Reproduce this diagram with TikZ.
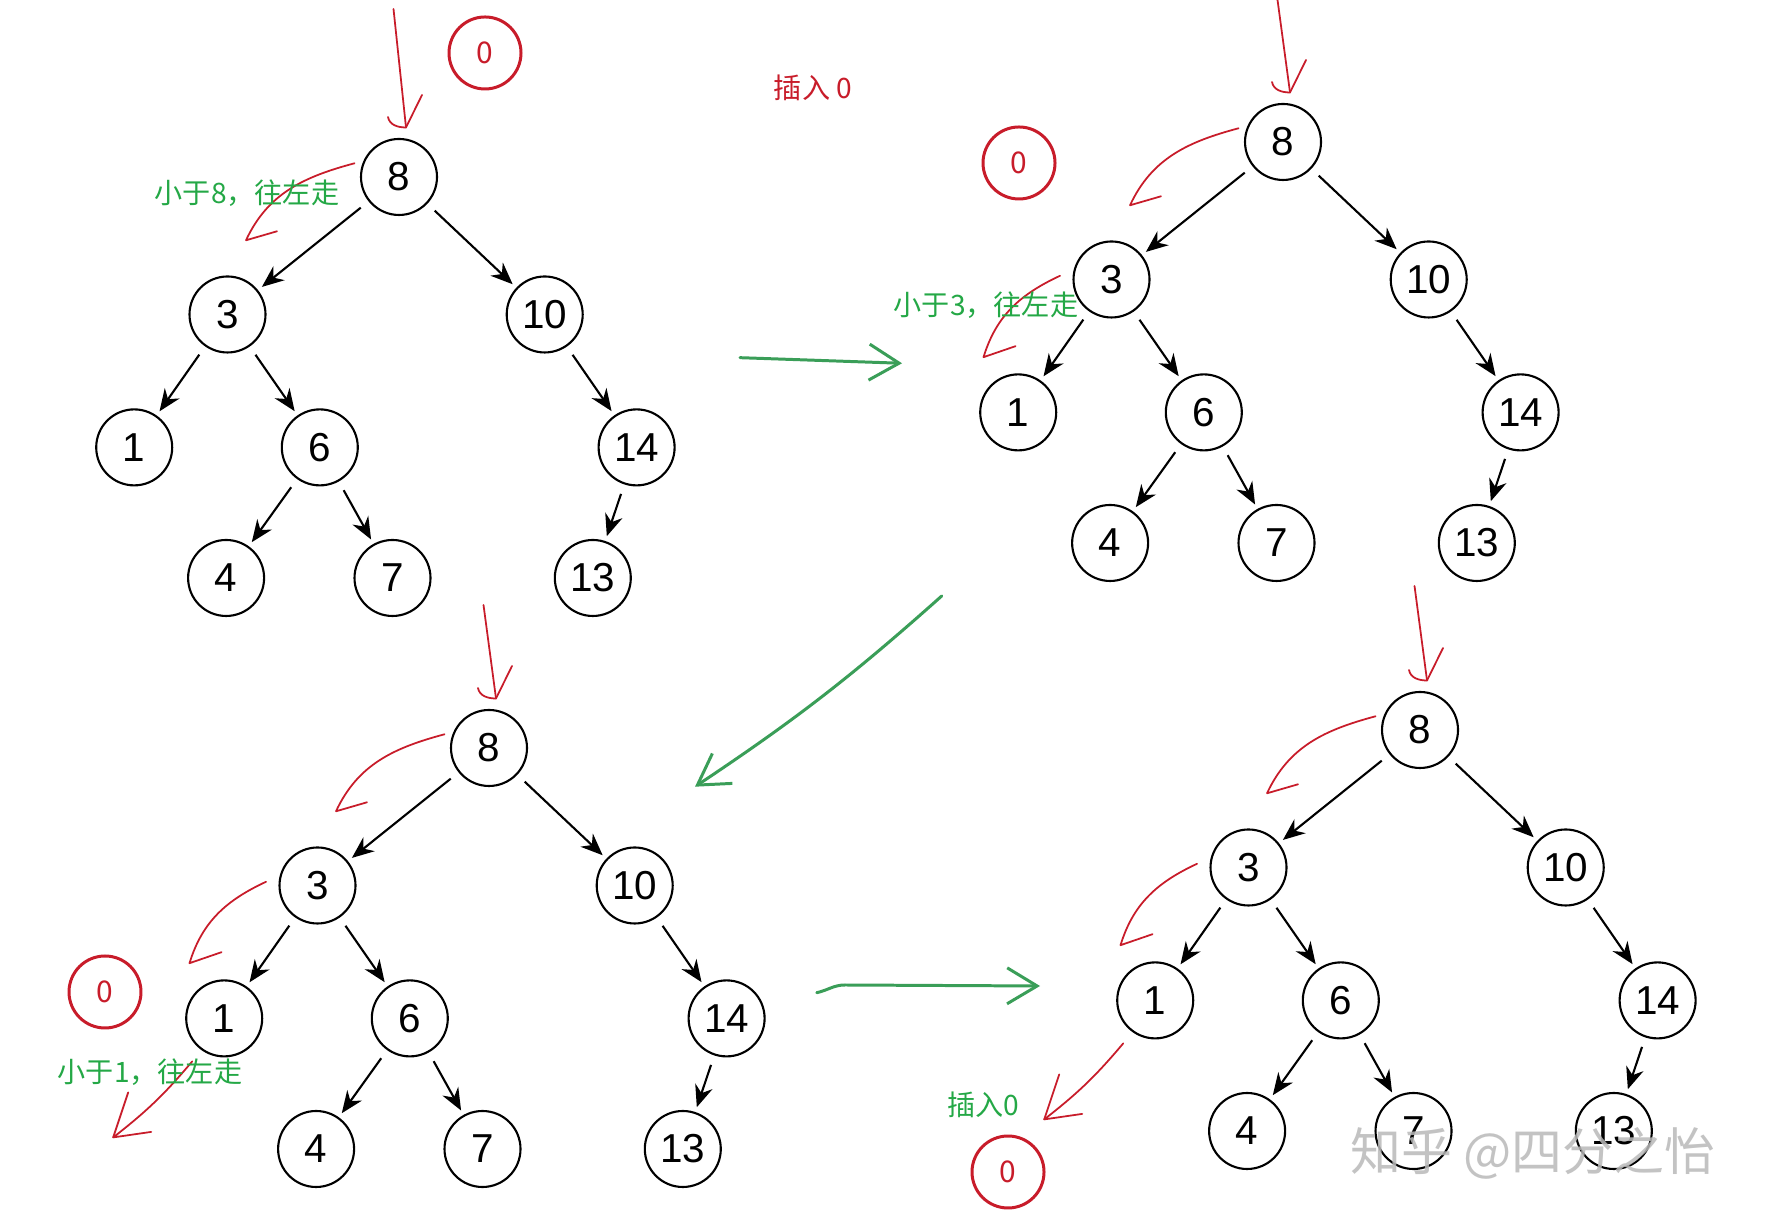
\documentclass[tikz,border=0pt]{standalone}
\usepackage{fontspec}
\setmainfont{Liberation Sans}
\newfontfamily\cjk{Noto Sans CJK SC}
\usetikzlibrary{arrows.meta, calc}
\definecolor{inkred}{RGB}{200,28,42}
\definecolor{inkgreen}{RGB}{58,158,88}
\definecolor{txtgreen}{RGB}{36,168,70}
\tikzset{
  bst/.style   = {circle, draw=black, line width=0.6pt, minimum size=7.6mm, inner sep=0pt,
                  font=\fontsize{11.5}{13}\selectfont},
  edge/.style  = {-{Stealth[length=2.2mm, width=1.8mm]}, line width=0.6pt,
                  shorten <=1mm, shorten >=0.5mm},
  zero/.style  = {circle, draw=inkred, line width=0.85pt, minimum size=7.2mm, inner sep=0pt,
                  text=inkred, font=\cjk\fontsize{8.5}{9}\selectfont},
  pen/.style   = {inkred, line width=0.5pt, line cap=round, line join=round},
  move/.style  = {inkgreen, line width=0.85pt, line cap=round,
                  -{Straight Barb[length=3mm, width=3.6mm, line width=0.85pt]}},
  note/.style  = {txtgreen, font=\cjk\fontsize{8}{9}\selectfont},
  rednote/.style = {inkred, font=\cjk\fontsize{8}{9}\selectfont},
  wmark/.style = {gray!55, opacity=0.85, font=\cjk\fontsize{14.5}{16}\selectfont},
}
\begin{document}
\begin{tikzpicture}
  \useasboundingbox (0,0) rectangle (17.68,12.25);
  \fill[white] (0,0) rectangle (17.68,12.25);
  % four copies of the search tree
  \foreach \tr/\x/\y/\h in {a/3.99/10.48/1.68, b/12.83/10.83/1.42,
                            c/4.89/4.77/1.43, d/14.20/4.95/1.44} {
    \begin{scope}[shift={(\x,\y)}]
      \node[bst] (\tr8)  at (0,0)           {8};
      \node[bst] (\tr3)  at (-1.715,-1.375) {3};
      \node[bst] (\tr10) at (1.457,-1.375)  {10};
      \node[bst] (\tr1)  at (-2.648,-2.704) {1};
      \node[bst] (\tr6)  at (-0.792,-2.704) {6};
      \node[bst] (\tr14) at (2.376,-2.704)  {14};
      \node[bst] (\tr4)  at (-1.729,-4.01)  {4};
      \node[bst] (\tr7)  at (-0.065,-4.01)  {7};
      \node[bst] (\tr13) at (1.938,-4.01)   {13};
      % red pointer coming in at the root
      \coordinate (\tr top) at (-0.055,\h);
      \coordinate (\tr in)  at (0.07,0.495);
      \draw[pen] (\tr top) -- (\tr in);
      \draw[pen] (-0.11,0.60) to[out=-80, in=180] (\tr in) -- (0.23,0.82);
      % smaller than 8, go left
      \draw[pen] (-0.445,0.137) to[out=195, in=65] (-1.53,-0.633) -- ++(0.31,0.09);
    \end{scope}
    \foreach \up/\dn in {8/3, 8/10, 3/1, 3/6, 10/14, 6/4, 6/7, 14/13}
      \draw[edge] (\tr\up) -- (\tr\dn);
  }
  % smaller than 3, go left
  \foreach \tr in {b,c,d}
    \draw[pen] ($(\tr3)+(-0.515,0.037)$) to[out=205, in=73] ($(\tr3)+(-1.28,-0.777)$)
      -- ++(0.32,0.11);
  % smaller than 1, go left
  \foreach \tr in {c,d} {
    \draw[pen] ($(\tr1)+(-0.32,-0.43)$) to[bend left=6] ($(\tr1)+(-1.11,-1.19)$)
      coordinate (\tr tip) -- ++(0.38,0.055);
    \draw[pen] (\tr tip) -- ++(0.15,0.45);
  }

  \node[zero] (za) at (4.85,11.72)  {0};
  \node[zero] (zb) at (10.19,10.62) {0};
  \node[zero] (zc) at (1.05,2.33)   {0};
  \node[zero] (zd) at (10.08,0.53)  {0};

  \node[rednote] (ins) at (8.13,11.37) {插入 0};
  \node[note] (la) at (2.47,10.32) {小于8，往左走};
  \node[note] (lb) at (9.86,9.20)  {小于3，往左走};
  \node[note] (lc) at (1.50,1.525) {小于1，往左走};
  \node[note] (ld) at (9.83,1.205) {插入0};

  % steps
  \coordinate (m1s) at (7.40,8.673);  \coordinate (m1e) at (9.02,8.617);
  \coordinate (m2s) at (9.417,6.29);  \coordinate (m2e) at (6.95,4.383);
  \coordinate (m3s) at (8.167,2.323); \coordinate (m3e) at (10.40,2.39);
  \draw[move] (m1s) -- (m1e);
  \draw[move] (m2s) to[bend left=4] (m2e);
  \draw[move] (m3s) to[out=12, in=180] (8.45,2.40) -- (m3e);

  \node[wmark] (wm) at (15.33,0.72) {知乎 @四分之怡};
\end{tikzpicture}
\end{document}
